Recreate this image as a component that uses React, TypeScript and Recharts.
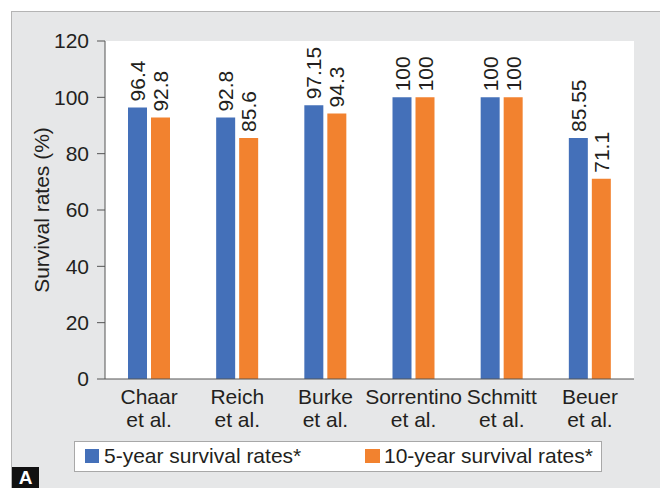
import React from 'react';
import { BarChart, Bar, XAxis, YAxis, CartesianGrid, LabelList } from 'recharts';

const studies = ['Chaar', 'Reich', 'Burke', 'Sorrentino', 'Schmitt', 'Beuer'];
const fiveYear = [96.4, 92.8, 97.15, 100, 100, 85.55];
const tenYear = [92.8, 85.6, 94.3, 100, 100, 71.1];
const yTicks = [0, 20, 40, 60, 80, 100, 120];
const seriesNames = ['5-year survival rates*', '10-year survival rates*'];

const BLUE = '#4470B9';
const ORANGE = '#F2822F';
const TEXT = '#231f20';
const FONT = '"Liberation Sans", Arial, sans-serif';
const FS = 21;

const data = studies.map((s, i) => ({ name: s, five: fiveYear[i], ten: tenYear[i] }));

const XTick = (props: any) => {
  const { x, y, payload } = props;
  return (
    <text x={x} y={y} textAnchor="middle" fill={TEXT} fontSize={FS} fontFamily={FONT}>
      <tspan x={x} dy={17}>{payload.value}</tspan>
      <tspan x={x} dy={23}>et al.</tspan>
    </text>
  );
};

const BarLabel = (props: any) => {
  const { x, y, width, value } = props;
  const cx = x + width / 2;
  const cy = y - 6;
  return (
    <text
      transform={`translate(${cx},${cy}) rotate(-90)`}
      textAnchor="start"
      dominantBaseline="central"
      fill={TEXT}
      fontSize={FS}
      fontFamily={FONT}
    >
      {String(value)}
    </text>
  );
};

const YLabel = (props: any) => {
  const { viewBox } = props;
  const cx = viewBox.x + 41;
  const cy = viewBox.y + viewBox.height / 2;
  return (
    <text
      transform={`translate(${cx},${cy}) rotate(-90)`}
      textAnchor="middle"
      dominantBaseline="central"
      fill={TEXT}
      fontSize={FS}
      fontFamily={FONT}
    >
      Survival rates (%)
    </text>
  );
};

export default function App() {
  return (
    <div style={{ position: 'absolute', left: 0, top: 0, width: 660, height: 488, background: '#fff', overflow: 'hidden', fontFamily: FONT }}>
      <div style={{ position: 'absolute', left: 11, top: 11, width: 649, height: 477, background: '#e6e7e8', borderLeft: '1px solid #b4b4b4', borderTop: '1px solid #b4b4b4', boxSizing: 'border-box' }} />
      <div style={{ position: 'absolute', left: 0, top: 0 }}>
        <BarChart
          width={660}
          height={488}
          data={data}
          margin={{ top: 41, right: 26, left: 0, bottom: 0 }}
          barSize={19}
          barGap={4}
        >
          <CartesianGrid horizontal={false} vertical={false} fill="#ffffff" />
          <XAxis
            dataKey="name"
            height={109}
            tickLine={false}
            axisLine={{ stroke: '#555' }}
            tick={<XTick />}
            interval={0}
          />
          <YAxis
            width={105}
            domain={[0, 120]}
            ticks={yTicks}
            tickSize={8}
            tickMargin={8}
            tickLine={{ stroke: '#555' }}
            axisLine={{ stroke: '#555' }}
            tick={{ fill: TEXT, fontSize: FS, fontFamily: FONT }}
            label={<YLabel />}
          />
          <Bar dataKey="five" fill={BLUE} isAnimationActive={false}>
            <LabelList dataKey="five" content={<BarLabel />} />
          </Bar>
          <Bar dataKey="ten" fill={ORANGE} isAnimationActive={false}>
            <LabelList dataKey="ten" content={<BarLabel />} />
          </Bar>
        </BarChart>
      </div>
      <div style={{ position: 'absolute', left: 74, top: 441, width: 528, height: 31, background: '#fff', border: '1px solid #a8a8a8', boxSizing: 'border-box' }}>
        <div style={{ position: 'absolute', left: 10, top: 7, width: 14, height: 14, background: BLUE }} />
        <div style={{ position: 'absolute', left: 29, top: 2, fontSize: FS, color: TEXT, lineHeight: '24px', whiteSpace: 'nowrap' }}>{seriesNames[0]}</div>
        <div style={{ position: 'absolute', left: 290, top: 7, width: 15, height: 14, background: ORANGE }} />
        <div style={{ position: 'absolute', left: 309, top: 2, fontSize: FS, color: TEXT, lineHeight: '24px', whiteSpace: 'nowrap' }}>{seriesNames[1]}</div>
      </div>
      <div style={{ position: 'absolute', left: 12, top: 467, width: 27, height: 21, background: '#111', color: '#fff', fontWeight: 'bold', fontSize: 19, lineHeight: '22px', textAlign: 'center' }}>A</div>
    </div>
  );
}
